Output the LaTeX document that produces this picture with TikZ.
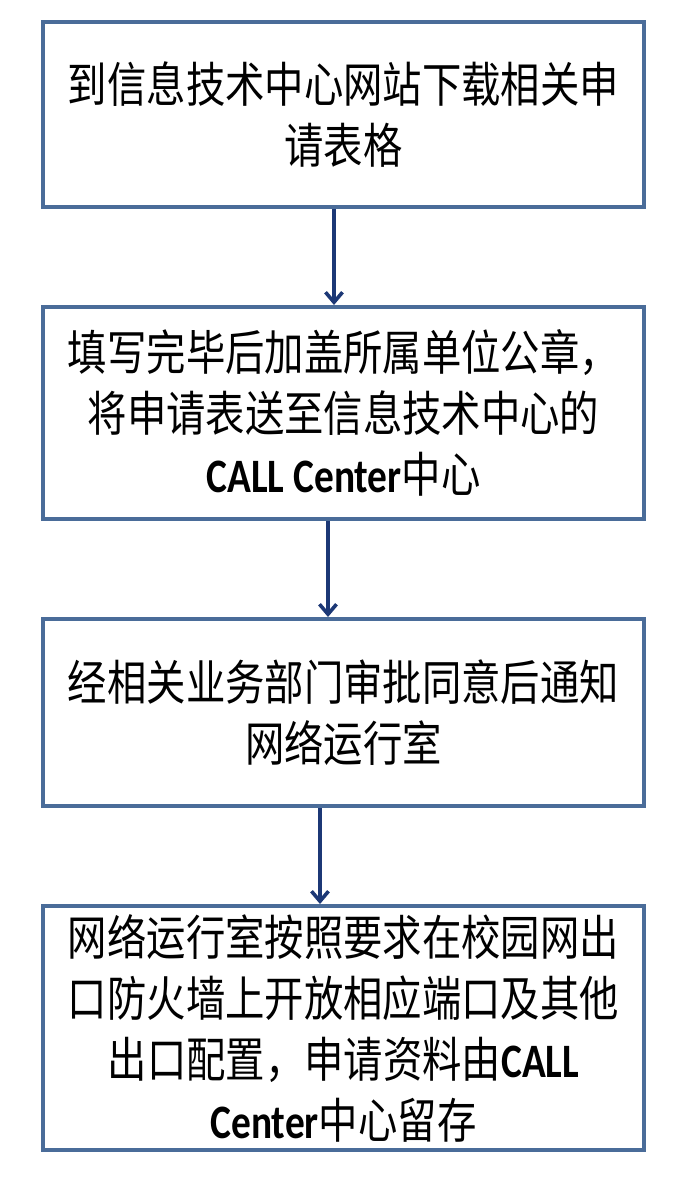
\documentclass[tikz,border=0pt]{standalone}
\usepackage{fontspec}
\usetikzlibrary{arrows.meta}
\newfontfamily\cjkfont[FakeStretch=0.82]{Noto Sans CJK SC}
\newfontfamily\latfont[FakeStretch=0.82]{Carlito}
\newcommand{\cc}[1]{{\latfont\bfseries #1}}
\definecolor{boxblue}{RGB}{74,108,153}
\definecolor{arrowblue}{RGB}{28,56,118}
\begin{document}
\begin{tikzpicture}[x=1pt,y=-1pt]
\tikzstyle{stepbox}=[draw=boxblue, line width=4pt, minimum width=601pt, inner sep=0pt, align=center, font=\cjkfont\fontsize{48}{61}\selectfont]
\tikzstyle{flow}=[draw=arrowblue, line width=3.6pt, -{Straight Barb[length=10pt,width=17pt]}]
\fill [white] (0,0) rectangle (674,1186);
\useasboundingbox (0,0) rectangle (674,1186);
\node [stepbox, minimum height=185pt] (download) at (343.5,114.5) {到信息技术中心网站下载相关申\\请表格};
\node [stepbox, minimum height=212pt] (stamp) at (343.5,413) {填写完毕后加盖所属单位公章，\\将申请表送至信息技术中心的\\\cc{CALL Center}中心};
\node [stepbox, minimum height=187pt] (approve) at (343.5,712.5) {经相关业务部门审批同意后通知\\网络运行室};
\node [stepbox, minimum height=244pt] (open) at (343.5,1028) {网络运行室按照要求在校园网出\\口防火墙上开放相应端口及其他\\出口配置，申请资料由\cc{CALL}\\\cc{Center}中心留存};
\draw [flow] ([xshift=293pt]download.south west) -- ([xshift=293pt]stamp.north west);
\draw [flow] ([xshift=287pt]stamp.south west) -- ([xshift=287pt]approve.north west);
\draw [flow] ([xshift=279pt]approve.south west) -- ([xshift=279pt]open.north west);
\end{tikzpicture}
\end{document}
